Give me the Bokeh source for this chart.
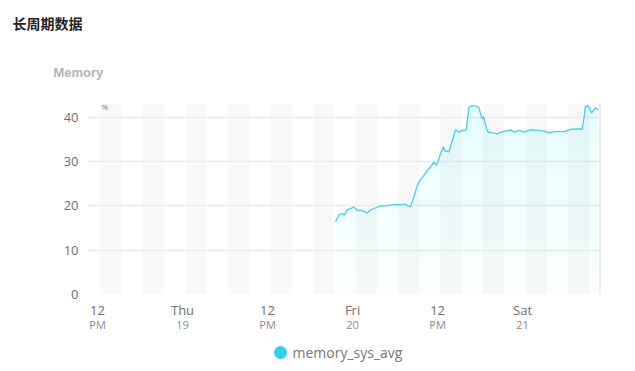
import pandas as pd
from bokeh.plotting import figure
from bokeh.layouts import column
from bokeh.models import (Range1d, FixedTicker, LinearAxis, Label,
                          Span, ColumnDataSource, Title)
from bokeh.core.properties import value
from bokeh.embed import file_html
from bokeh.resources import INLINE

# ---------------- data ----------------
times = [
    "2024-09-19 21:36", "2024-09-19 22:04", "2024-09-19 22:33", "2024-09-19 22:46",
    "2024-09-19 23:15", "2024-09-19 23:43", "2024-09-20 00:11", "2024-09-20 00:40",
    "2024-09-20 01:22", "2024-09-20 02:04", "2024-09-20 02:32", "2024-09-20 03:15",
    "2024-09-20 03:57", "2024-09-20 04:54", "2024-09-20 05:50", "2024-09-20 06:47",
    "2024-09-20 07:29", "2024-09-20 07:49", "2024-09-20 08:11", "2024-09-20 08:39",
    "2024-09-20 09:08", "2024-09-20 09:30", "2024-09-20 10:04", "2024-09-20 10:33",
    "2024-09-20 11:01", "2024-09-20 11:29", "2024-09-20 11:52", "2024-09-20 12:20",
    "2024-09-20 12:49", "2024-09-20 13:02", "2024-09-20 13:36", "2024-09-20 14:05",
    "2024-09-20 14:32", "2024-09-20 15:01", "2024-09-20 15:29", "2024-09-20 16:03",
    "2024-09-20 16:25", "2024-09-20 16:54", "2024-09-20 17:22", "2024-09-20 17:50",
    "2024-09-20 18:04", "2024-09-20 18:19", "2024-09-20 18:32", "2024-09-20 18:47",
    "2024-09-20 19:06", "2024-09-20 19:43", "2024-09-20 20:26", "2024-09-20 20:53",
    "2024-09-20 21:36", "2024-09-20 22:19", "2024-09-20 22:46", "2024-09-20 23:29",
    "2024-09-21 00:11", "2024-09-21 01:08", "2024-09-21 02:05", "2024-09-21 03:01",
    "2024-09-21 03:43", "2024-09-21 04:40", "2024-09-21 05:50", "2024-09-21 06:47",
    "2024-09-21 07:43", "2024-09-21 08:25", "2024-09-21 08:39", "2024-09-21 08:53",
    "2024-09-21 09:13", "2024-09-21 09:30", "2024-09-21 09:42", "2024-09-21 10:04",
    "2024-09-21 10:19", "2024-09-21 10:41",
]
memory_sys_avg = [
    16.5, 17.9, 18.4, 17.9, 19.1, 19.4, 19.8, 19.0,
    19.0, 18.4, 19.1, 19.6, 20.0, 20.1, 20.3, 20.3,
    20.4, 20.0, 19.9, 22.0, 24.6, 25.8, 26.9, 28.0,
    28.9, 29.9, 29.2, 31.4, 33.4, 32.5, 32.2, 34.8,
    37.2, 36.7, 37.1, 37.2, 42.3, 42.7, 42.6, 42.3,
    40.8, 39.7, 40.1, 38.2, 36.7, 36.5, 36.3, 36.7,
    36.9, 37.2, 36.7, 37.1, 36.7, 37.2, 37.1, 36.9,
    36.6, 36.8, 36.8, 37.3, 37.4, 37.4, 39.7, 42.5,
    42.7, 42.0, 41.0, 41.7, 42.2, 41.7,
]
x_start = "2024-09-18 10:35"
x_end = "2024-09-21 11:00"
y_ticks = [0, 10, 20, 30, 40]
x_tick_times = ["2024-09-18 12:00", "2024-09-19 00:00", "2024-09-19 12:00",
                "2024-09-20 00:00", "2024-09-20 12:00", "2024-09-21 00:00"]
x_tick_top = ["12", "Thu", "12", "Fri", "12", "Sat"]
x_tick_bottom = ["PM", "19", "PM", "20", "PM", "21"]
series_name = "memory_sys_avg"
title_text = "长周期数据"
panel_text = "Memory"
unit_text = "%"

# ---------------- helpers ----------------
def ms(t):
    return pd.Timestamp(t).value // 10**6

y_top = 43.16
LINE = "#45d0e3"
FONT = "Open Sans"
W = 635
H_MAIN, H_LEG = 343, 28
BL, BR, BT = 87, 35, 103

t_dt = pd.to_datetime(times)
src = ColumnDataSource(dict(t=t_dt, v=memory_sys_avg,
                            v0=[0] * len(memory_sys_avg)))

# ---------------- main chart ----------------
p = figure(width=W, height=H_MAIN, x_axis_type="datetime",
           x_range=Range1d(ms(x_start), ms(x_end)),
           y_range=Range1d(0, y_top),
           x_axis_location=None,
           output_backend="svg", toolbar_location=None,
           min_border_left=BL, min_border_right=BR,
           min_border_top=BT, min_border_bottom=49)
p.outline_line_color = None
p.background_fill_color = "white"
p.border_fill_color = "white"

# titles above the frame
t_mem = Title(text=panel_text, align="left", offset=53 - BL, standoff=48,
              text_font="Liberation Sans", text_font_style="bold",
              text_font_size="13px", text_color="#aab4bc")
t_main = Title(text=title_text, align="left", offset=12 - BL, standoff=12,
               text_font="Noto Sans CJK SC", text_font_style="bold",
               text_font_size="14px", text_color="#222222")
p.add_layout(t_mem, "above")
p.add_layout(t_main, "above")

# alternating vertical bands (every 6 h, 3 h wide)
band_starts = pd.date_range("2024-09-18 12:25", x_end, freq="6h")
band_left = [ms(b) for b in band_starts]
band_right = [min(ms(b + pd.Timedelta(hours=3)), ms(x_end)) for b in band_starts]
p.quad(left=band_left, right=band_right, bottom=0, top=y_top,
       fill_color="#f8f8f8", line_color=None, level="underlay")

# area fill with a vertical fade (stacked translucent layers)
p.varea(x="t", y1="v0", y2="v", source=src, fill_color=LINE, fill_alpha=0.025)
n_layers = 20
for k in range(1, n_layers + 1):
    lvl = y_top * k / (n_layers + 1)
    p.varea(x=t_dt, y1=[lvl] * len(memory_sys_avg),
            y2=[max(v, lvl) for v in memory_sys_avg],
            fill_color=LINE, fill_alpha=0.0075)
p.line(x="t", y="v", source=src, line_color=LINE, line_width=1.3)

# right edge line
p.add_layout(Span(location=ms(x_end), dimension="height",
                  line_color="#dcdcdc", line_width=2))

# y axis
p.yaxis.ticker = FixedTicker(ticks=y_ticks)
p.yaxis.axis_line_color = None
p.yaxis.major_tick_line_color = None
p.yaxis.minor_tick_line_color = None
p.yaxis.major_tick_out = 0
p.yaxis.major_tick_in = 0
p.yaxis.major_label_standoff = 9
p.yaxis.major_label_text_font = FONT
p.yaxis.major_label_text_font_size = "13px"
p.yaxis.major_label_text_color = "#707070"
p.ygrid.grid_line_color = "#ececec"
p.ygrid.grid_line_width = 1.5
p.xgrid.grid_line_color = None

# x axes (two rows of labels)
tick_ms = [ms(t) for t in x_tick_times]
ax1 = LinearAxis(ticker=FixedTicker(ticks=tick_ms),
                 major_label_overrides=dict(zip(tick_ms, x_tick_top)))
ax2 = LinearAxis(ticker=FixedTicker(ticks=tick_ms),
                 major_label_overrides=dict(zip(tick_ms, x_tick_bottom)))
for ax, size, col, so in ((ax1, "13px", "#707070", 6), (ax2, "11px", "#8c8c8c", -5)):
    ax.axis_line_color = None
    ax.major_tick_line_color = None
    ax.minor_tick_line_color = None
    ax.major_tick_out = 0
    ax.major_tick_in = 0
    ax.minor_tick_out = 0
    ax.major_label_standoff = so
    ax.major_label_text_font = FONT
    ax.major_label_text_font_size = size
    ax.major_label_text_color = col
p.add_layout(ax1, "below")
p.add_layout(ax2, "below")

# unit label inside the frame
p.add_layout(Label(x=101 - BL, y=191 - 3, x_units="screen", y_units="screen",
                   text=unit_text, text_font=FONT, text_font_size="8px",
                   text_color="#777777", text_baseline="middle"))

# ---------------- legend strip (frame aligned with the chart) ----------------
leg = figure(width=W, height=H_LEG, x_range=Range1d(BL, W - BR),
             y_range=Range1d(H_LEG, 0),
             x_axis_location=None, y_axis_location=None,
             output_backend="svg", toolbar_location=None,
             min_border_left=BL, min_border_right=BR,
             min_border_top=0, min_border_bottom=0)
leg.grid.visible = False
leg.outline_line_color = None
leg.border_fill_color = "white"
leg.background_fill_color = "white"
leg_y = 9
leg.scatter(x=[280], y=[leg_y], marker="circle", size=13,
            fill_color="#2ed3ea", line_color=None)
leg.text(x=[292], y=[leg_y], text=[series_name], text_font=value(FONT),
         text_font_size="14px", text_color="#777777", text_baseline="middle")

layout = column(p, leg, spacing=0)
open("out.html", "w").write(file_html(layout, INLINE))
